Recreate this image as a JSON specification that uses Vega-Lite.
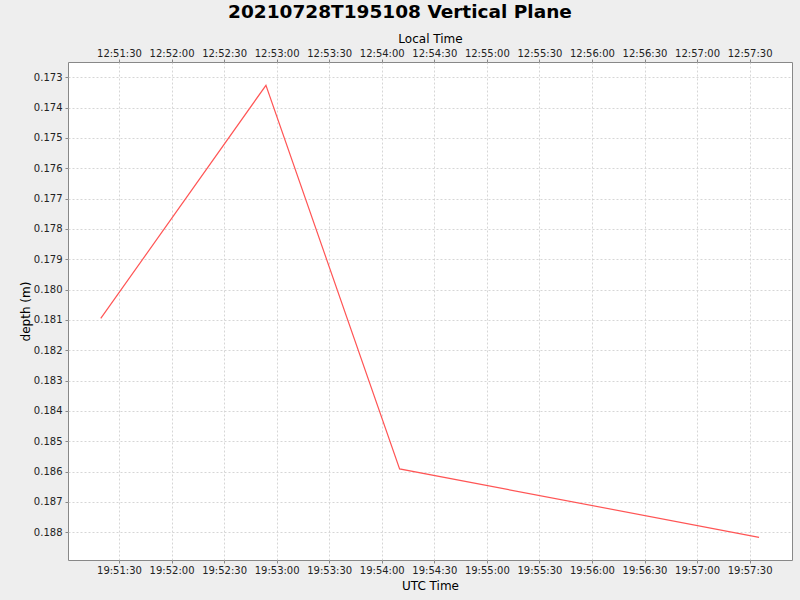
{
  "$schema": "https://vega.github.io/schema/vega-lite/v6.json",
  "width": 724,
  "height": 498,
  "autosize": {"type": "none"},
  "padding": {"left": 68, "top": 62, "right": 8, "bottom": 40},
  "background": "#eeeeee",
  "title": {
    "text": "20210728T195108 Vertical Plane",
    "font": "DejaVu Sans",
    "fontSize": 18.5,
    "fontWeight": "bold",
    "color": "#000000",
    "anchor": "middle",
    "dx": -30,
    "offset": 11
  },
  "config": {
    "view": {"fill": "#ffffff", "stroke": "#888888", "strokeWidth": 1},
    "axis": {
      "labelFont": "DejaVu Sans",
      "labelFontSize": 10,
      "labelColor": "#222222",
      "labelOverlap": false,
      "labelFlush": false,
      "titleFont": "DejaVu Sans",
      "titleFontSize": 12,
      "titleFontWeight": "normal",
      "titleColor": "#000000",
      "domain": false,
      "tickColor": "#888888",
      "tickSize": 3,
      "gridColor": "#d6d6d6",
      "gridDash": [2, 2],
      "labelPadding": 3
    }
  },
  "data": {
    "values": [
      {"time": "2021-07-28T19:51:19.600Z", "depth": 0.18095},
      {"time": "2021-07-28T19:52:53.900Z", "depth": 0.173264},
      {"time": "2021-07-28T19:54:10.200Z", "depth": 0.18591},
      {"time": "2021-07-28T19:57:35.400Z", "depth": 0.188165}
    ]
  },
  "encoding": {
    "y": {
      "field": "depth",
      "type": "quantitative",
      "scale": {"domain": [0.172496, 0.188913], "reverse": true, "nice": false, "zero": false},
      "axis": {
        "title": "depth (m)",
        "values": [0.173, 0.174, 0.175, 0.176, 0.177, 0.178, 0.179, 0.18, 0.181, 0.182, 0.183, 0.184, 0.185, 0.186, 0.187, 0.188],
        "format": ".3f",
        "grid": true,
        "titlePadding": 1
      }
    }
  },
  "layer": [
    {
      "mark": {"type": "line", "color": "#ff5555", "strokeWidth": 1.2},
      "encoding": {
        "x": {
          "field": "time",
          "type": "temporal",
          "scale": {
            "type": "utc",
            "domain": [
              {"year": 2021, "month": 7, "date": 28, "hours": 19, "minutes": 51, "seconds": 0, "milliseconds": 900, "utc": true},
              {"year": 2021, "month": 7, "date": 28, "hours": 19, "minutes": 57, "seconds": 54, "milliseconds": 200, "utc": true}
            ],
            "nice": false
          },
          "axis": {
            "orient": "bottom",
            "title": "UTC Time",
            "tickCount": 14,
            "labelExpr": "utcFormat(datum.value, '%H:%M:%S')",
            "grid": true,
            "labelPadding": 2,
            "titlePadding": 5
          }
        }
      }
    },
    {
      "mark": {"type": "line", "opacity": 0},
      "encoding": {
        "x": {
          "field": "time",
          "type": "temporal",
          "axis": {
            "orient": "top",
            "title": "Local Time",
            "tickCount": 14,
            "labelExpr": "utcFormat(datum.value - 25200000, '%H:%M:%S')",
            "grid": false,
            "labelPadding": 1,
            "titlePadding": 3
          }
        }
      }
    }
  ],
  "resolve": {"axis": {"x": "independent"}}
}
